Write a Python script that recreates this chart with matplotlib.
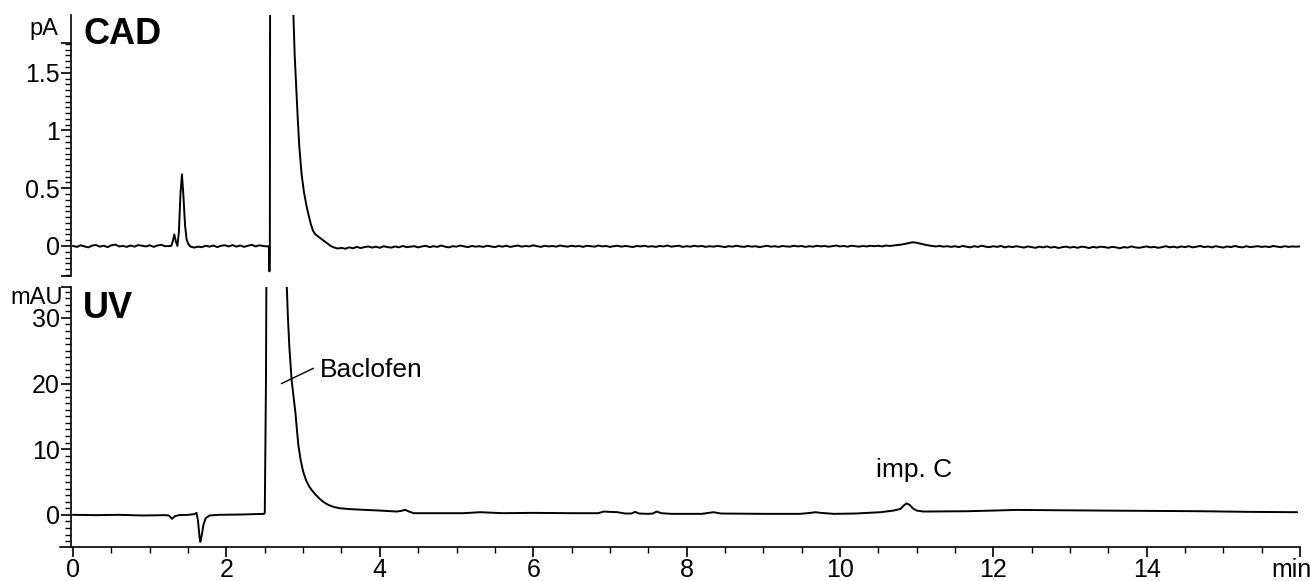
import numpy as np
import matplotlib
matplotlib.use("Agg")
import matplotlib.pyplot as plt
import matplotlib.ticker as mticker
from matplotlib.transforms import ScaledTranslation

plt.rcParams['font.family'] = ['Liberation Sans', 'DejaVu Sans']

# ---- CAD trace (pA) ----
# baseline 0.00 - 1.25 min, every 0.05 min
cad_base1 = [0.000, -0.008, 0.006, -0.004, -0.012, 0.004, 0.008, -0.006, 0.002, -0.010,
             0.006, 0.012, -0.004, 0.000, -0.008, 0.004, -0.006, 0.008, 0.002, -0.004,
             0.006, -0.008, 0.004, 0.010, -0.002, 0.000]
# first peaks
cad_pk1_t = [1.28, 1.30, 1.32, 1.34, 1.36, 1.38, 1.40, 1.42, 1.44, 1.46, 1.48, 1.50, 1.53]
cad_pk1_v = [0.00, 0.04, 0.10, 0.04, 0.00, 0.12, 0.45, 0.62, 0.42, 0.18, 0.06, 0.02, -0.005]
# baseline 1.58 - 2.53 min
cad_base2 = [-0.014, -0.006, -0.010, 0.002, -0.006, 0.004, -0.010, 0.002, 0.006, -0.004,
             0.008, -0.006, 0.004, -0.008, 0.002, 0.010, -0.004, 0.006, 0.000, -0.004]
# baclofen peak (off scale)
cad_pk2_t = [2.555, 2.560, 2.566, 2.572, 2.70, 2.873, 2.89, 2.91, 2.93, 2.95, 2.98, 3.01,
             3.04, 3.07, 3.10, 3.13, 3.16, 3.20, 3.24, 3.28, 3.32, 3.36, 3.40, 3.43]
cad_pk2_v = [0.0, -0.22, -0.05, 4.0, 9.0, 2.0, 1.65, 1.38, 1.10, 0.86, 0.62, 0.47,
             0.36, 0.27, 0.19, 0.13, 0.10, 0.08, 0.06, 0.04, 0.02, 0.0, -0.012, -0.018]
# baseline 3.45 - 16.00 min, every 0.05 min
cad_base3 = [
    -0.022, -0.016, -0.024, -0.012, -0.020, -0.008, -0.018, -0.010, -0.004, -0.014,
    -0.006, -0.016, -0.002, -0.010, -0.014, -0.004, -0.012, 0.000, -0.010, -0.006,
    -0.002, -0.012, -0.004, 0.002, -0.010, -0.002, -0.008, 0.004, -0.006, -0.012,
    -0.002, -0.006, 0.004, -0.004, -0.010, 0.000, -0.006, -0.002, -0.008, 0.002,
    -0.004, -0.010, 0.000, -0.006, 0.002, -0.008, -0.002, 0.004, -0.006, 0.000,
    -0.004, 0.006, -0.002, -0.008, 0.002, -0.004, 0.000, -0.006, 0.004, -0.002,
    -0.006, 0.002, -0.004, 0.000, -0.008, 0.002, -0.002, -0.006, 0.004, -0.004,
    0.000, -0.008, -0.002, 0.002, -0.006, 0.000, -0.004, -0.010, 0.000, -0.004,
    0.002, -0.006, -0.002, -0.008, 0.000, -0.004, 0.004, -0.006, -0.002, 0.002,
    -0.008, -0.002, -0.006, 0.002, -0.004, 0.000, -0.008, -0.002, -0.006, 0.000,
    -0.004, -0.010, -0.002, -0.006, 0.002, -0.004, -0.008, 0.000, -0.006, -0.002,
    -0.010, -0.004, 0.002, -0.006, -0.002, -0.008, 0.000, -0.004, -0.006, 0.002,
    -0.004, 0.000, -0.008, -0.002, -0.006, 0.002, -0.004, 0.000, -0.006, -0.002,
    0.004, -0.004, 0.000, -0.006, 0.002, -0.002, -0.006, 0.000, -0.004, 0.002,
    -0.002, 0.002, -0.004, 0.004, 0.000, 0.004, 0.008, 0.012, 0.018, 0.026,
    0.032, 0.028, 0.020, 0.012, 0.006, 0.000, -0.004, 0.000, -0.006, -0.002,
    -0.008, -0.002, -0.010, 0.000, -0.006, -0.012, -0.002, -0.008, 0.002, -0.006,
    -0.010, -0.002, -0.008, 0.000, -0.012, -0.004, -0.010, -0.002, -0.008, -0.014,
    -0.004, -0.010, -0.016, -0.006, -0.012, -0.004, -0.014, -0.008, -0.018, -0.010,
    -0.006, -0.014, -0.008, -0.016, -0.006, -0.010, -0.018, -0.008, -0.014, -0.006,
    -0.010, -0.016, -0.008, -0.012, -0.020, -0.010, -0.014, -0.004, -0.012, -0.016,
    -0.010, -0.004, -0.012, -0.008, -0.016, -0.010, -0.002, -0.012, -0.006, -0.014,
    -0.004, -0.010, -0.002, -0.012, -0.006, 0.000, -0.010, -0.004, -0.012, -0.002,
    -0.008, -0.014, -0.004, -0.010, 0.000, -0.008, -0.012, -0.002, -0.010, -0.006,
    -0.002, -0.008, -0.004, -0.010, 0.000, -0.006, -0.010, -0.002, -0.008, -0.004,
    -0.006, -0.004]

# ---- UV trace (mAU) ----
uv_t = [0.0, 0.3, 0.6, 0.9, 1.2, 1.25, 1.29, 1.33, 1.38, 1.5, 1.58, 1.61, 1.63, 1.65,
        1.66, 1.68, 1.70, 1.73, 1.78, 1.9, 2.2, 2.49, 2.50, 2.515, 2.53, 2.70,
        2.787, 2.80, 2.82, 2.85, 2.88, 2.90, 2.92, 2.94, 2.97, 3.0, 3.04, 3.08, 3.11,
        3.16, 3.21, 3.26, 3.33, 3.40, 3.48, 3.6, 3.79, 4.0, 4.22, 4.28, 4.33, 4.38,
        4.44, 4.7, 5.09, 5.31, 5.6, 6.0, 6.5, 6.85, 6.92, 7.0, 7.1, 7.2, 7.28, 7.33,
        7.38, 7.5, 7.56, 7.61, 7.67, 7.8, 8.2, 8.35, 8.45, 9.0, 9.48, 9.62, 9.68, 9.75,
        9.92, 10.2, 10.53, 10.70, 10.79, 10.83, 10.87, 10.91, 10.95, 11.0, 11.09, 11.66,
        12.0, 12.31, 12.8, 13.4, 14.05, 14.7, 15.35, 15.96]
uv_v = [0.0, -0.05, 0.0, -0.1, -0.05, -0.1, -0.6, -0.2, -0.05, 0.0, 0.1, 0.3, -1.0, -3.5,
        -4.1, -3.0, -1.5, -0.5, -0.1, 0.0, 0.05, 0.15, 0.3, 20.0, 60.0, 70.0,
        34.75, 30.5, 25.6, 20.5, 17.5, 15.5, 12.8, 10.4, 8.2, 6.6, 5.2, 4.3, 3.8,
        3.1, 2.5, 2.0, 1.5, 1.2, 1.0, 0.88, 0.76, 0.65, 0.5, 0.6, 0.76, 0.5,
        0.25, 0.25, 0.25, 0.4, 0.25, 0.3, 0.25, 0.25, 0.5, 0.45, 0.4, 0.2, 0.2, 0.45,
        0.2, 0.15, 0.2, 0.5, 0.25, 0.15, 0.15, 0.4, 0.2, 0.15, 0.15, 0.3, 0.4, 0.3,
        0.15, 0.2, 0.4, 0.65, 0.9, 1.4, 1.75, 1.5, 1.0, 0.65, 0.5, 0.55,
        0.65, 0.75, 0.7, 0.65, 0.6, 0.55, 0.45, 0.4]

x_ticks = [0, 2, 4, 6, 8, 10, 12, 14, 16]
x_labels = ['0', '2', '4', '6', '8', '10', '12', '14', 'min']

# assemble CAD
cad_t = (list(np.linspace(0.0, 1.25, len(cad_base1))) + cad_pk1_t +
         list(np.linspace(1.58, 2.53, len(cad_base2))) + cad_pk2_t +
         list(np.linspace(3.45, 16.0, len(cad_base3))))
cad_v = cad_base1 + cad_pk1_v + cad_base2 + cad_pk2_v + cad_base3

fig = plt.figure(figsize=(13.11, 5.81), dpi=100)
ax1 = fig.add_axes([0.0458, 0.52496, 0.94584, 0.44922])
ax2 = fig.add_axes([0.0458, 0.05852, 0.94584, 0.4475])

spine_x = -0.026
for ax in (ax1, ax2):
    ax.set_xlim(-0.17, 16)
    ax.spines['top'].set_visible(False)
    ax.spines['right'].set_visible(False)
    ax.spines['left'].set_position(('data', spine_x))
    for s in ax.spines.values():
        s.set_linewidth(1.2)
    ax.tick_params(axis='both', which='major', direction='out', length=7, width=1.2,
                   labelsize=18, pad=1)
    ax.tick_params(axis='both', which='minor', direction='out', length=4, width=1.0)

# top: CAD
ax1.plot(cad_t, cad_v, color='black', lw=1.4)
ax1.set_ylim(-0.26, 2.0)
ax1.spines['bottom'].set_visible(False)
ax1.tick_params(axis='x', which='both', bottom=False, labelbottom=False)
ax1.set_yticks([-0.26, 0, 0.5, 1, 1.5, 1.76])
ax1.set_yticklabels(['', '0', '0.5', '1', '1.5', ''])
ax1.yaxis.set_minor_locator(mticker.FixedLocator(np.arange(-0.25, 1.76, 0.05)))
ax1.annotate('pA', xy=(spine_x, 1.88), xytext=(-9, 0), textcoords='offset points',
             ha='right', va='center', fontsize=17)
ax1.text(0.13, 1.83, 'CAD', fontsize=26, fontweight='bold', ha='left', va='center')

# bottom: UV
ax2.plot(uv_t, uv_v, color='black', lw=1.4)
ax2.set_ylim(-4.9, 34.7)
ax2.spines['left'].set_bounds(-4.9, 34.7)
ax2.set_yticks([0, 10, 20, 30, 34.7])
ax2.set_yticklabels(['0', '10', '20', '30', ''])
ax2.yaxis.set_minor_locator(mticker.FixedLocator(np.arange(-4, 35, 1)))
ax2.set_xticks(x_ticks)
ax2.set_xticklabels(x_labels)
ax2.xaxis.set_minor_locator(mticker.FixedLocator(np.arange(0.5, 16, 0.5)))
last = ax2.get_xticklabels()[-1]
last.set_transform(last.get_transform() + ScaledTranslation(-6 / 72, 0, fig.dpi_scale_trans))
ax2.annotate('mAU', xy=(spine_x, 33.0), xytext=(-6, 0), textcoords='offset points',
             ha='right', va='center', fontsize=17)
ax2.text(0.13, 31.4, 'UV', fontsize=26, fontweight='bold', ha='left', va='center')

ax2.plot([2.72, 3.13], [20.0, 22.3], color='black', lw=1.0)
ax2.text(3.22, 21.05, 'Baclofen', fontsize=19, ha='left', va='baseline')
ax2.text(10.97, 5.78, 'imp. C', fontsize=19, ha='center', va='baseline')

fig.savefig('out.png', dpi=100)
